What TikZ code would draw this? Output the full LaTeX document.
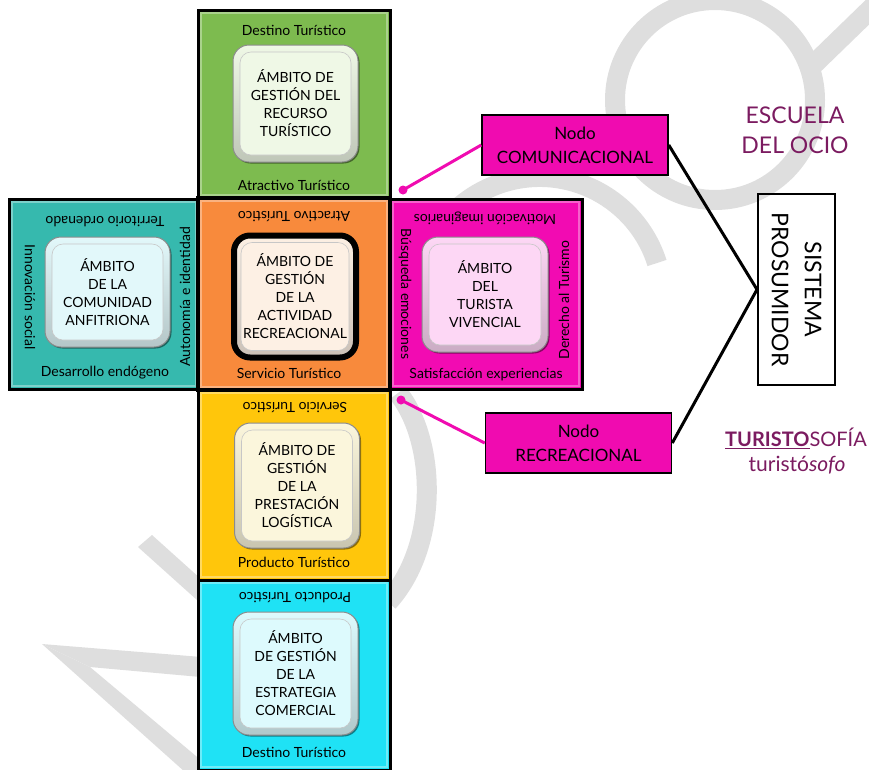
\documentclass[tikz,border=0pt]{standalone}
\usepackage{fontspec}
\setmainfont{Lato}
\usetikzlibrary{shadows}

\definecolor{gOut}{HTML}{7DBB4F}
\definecolor{tOut}{HTML}{36B9AE}
\definecolor{oOut}{HTML}{F88A3C}
\definecolor{mOut}{HTML}{F20BB2}
\definecolor{yOut}{HTML}{FFC60B}
\definecolor{cOut}{HTML}{1FE2F5}
\definecolor{gIn}{HTML}{EFF8E6}
\definecolor{tIn}{HTML}{E2F8FA}
\definecolor{oIn}{HTML}{FDF0E4}
\definecolor{mIn}{HTML}{FDD7F5}
\definecolor{yIn}{HTML}{FBF6DC}
\definecolor{cIn}{HTML}{DDFAFD}
\definecolor{wm}{HTML}{DEDEDE}
\definecolor{purp}{HTML}{7B1B60}
\definecolor{nodo}{HTML}{F00BB0}

\newcommand{\lblfont}{\fontsize{14}{16}\selectfont}
\newcommand{\amfont}{\fontsize{14}{18}\selectfont}

\tikzset{
  frame/.style={draw=black, line width=3pt, inner sep=0pt,
    path picture={
      \draw[white, opacity=0.35, line width=1.5pt]
        ([shift={(3pt,-3pt)}]path picture bounding box.north west) rectangle
        ([shift={(-3pt,3pt)}]path picture bounding box.south east);
    }},
  lbl/.style={inner sep=0pt, font=\lblfont},
  ambit/.style={rounded corners=16pt, draw=black!45, line width=1pt,
    top color=#1, bottom color=#1!80!black, align=center, inner sep=0pt,
    font=\amfont,
    drop shadow={shadow xshift=1.5pt, shadow yshift=-1.5pt, opacity=0.45, fill=black},
    path picture={
      \fill[#1, rounded corners=11pt]
        ([shift={(7pt,-7pt)}]path picture bounding box.north west) rectangle
        ([shift={(-7pt,7pt)}]path picture bounding box.south east);
      \draw[black!22, line width=0.6pt, rounded corners=11pt]
        ([shift={(7pt,-7pt)}]path picture bounding box.north west) rectangle
        ([shift={(-7pt,7pt)}]path picture bounding box.south east);
    }},
  nodobox/.style={draw=black, line width=1.5pt, fill=nodo, align=center,
    minimum width=186pt, minimum height=60pt, inner sep=0pt,
    font=\fontsize{17}{24}\selectfont},
  dotn/.style={circle, fill=nodo, minimum size=9pt, inner sep=0pt},
  pinkline/.style={draw=nodo, line width=3pt},
  blackline/.style={draw=black, line width=3pt},
  wmline/.style={draw=wm, line width=20pt},
}

\begin{document}
\begin{tikzpicture}[x=1pt,y=-1pt]
\useasboundingbox (0,0) rectangle (869,769);

% light grey watermark strokes
\fill[wm] (42,644) -- (300,665) -- (300,686) -- (90,667) -- cycle;
\fill[wm] (42,644) -- (90,667) -- (215,772) -- (185,772) -- cycle;
\fill[wm] (138,547) -- (152,535) -- (300,668) -- (286,680) -- cycle;
\draw[wmline] (398,393) .. controls (436,440) and (440,545) .. (388,602);
\draw[wmline] (657,263) arc[start angle=-17.5, end angle=-200, radius=123];
\draw[wmline] (715,100) circle[radius=100];
\draw[wmline] (812,66) -- (880,0);

% outer frames
\node[frame, fill=gOut, minimum width=192pt, minimum height=188pt] (fG) at (294,104) {};
\node[frame, fill=tOut, minimum width=190pt, minimum height=190pt] (fT) at (104,294) {};
\node[frame, fill=mOut, minimum width=192pt, minimum height=190pt] (fM) at (486,294) {};
\node[frame, fill=yOut, minimum width=192pt, minimum height=190pt] (fY) at (294,485) {};
\node[frame, fill=cOut, minimum width=192pt, minimum height=190pt] (fC) at (294,675) {};
\node[frame, fill=oOut, line width=4pt, minimum width=192pt, minimum height=192pt] (fO) at (294,294) {};

% edge labels
\node[lbl] (gTop) at (294,30) {Destino Turístico};
\node[lbl] (gBot) at (294,185) {Atractivo Turístico};
\node[lbl, rotate=180] (oTop) at (294,217) {Atractivo Turístico};
\node[lbl] (oBot) at (289,373) {Servicio Turístico};
\node[lbl, rotate=180] (tTop) at (105,222) {Territorio ordenado};
\node[lbl] (tBot) at (105,373) {Desarrollo endógeno};
\node[lbl, rotate=-90] (tLeft) at (30,297) {Innovación social};
\node[lbl, rotate=90] (tRight) at (185,297) {Autonomía e identidad};
\node[lbl, rotate=180] (mTop) at (485,218) {Motivación imaginarios};
\node[lbl, rotate=-90] (mLeft) at (405,294) {Búsqueda emociones};
\node[lbl, rotate=90] (mRight) at (564,300) {Derecho al Turismo};
\node[lbl] (mBot) at (486,375) {Satisfacción experiencias};
\node[lbl, rotate=180] (yTop) at (295,408) {Servicio Turístico};
\node[lbl] (yBot) at (294,562) {Producto Turístico};
\node[lbl, rotate=180] (cTop) at (295,598) {Producto Turístico};
\node[lbl] (cBot) at (294,752) {Destino Turístico};

% inner fields
\node[ambit=gIn, minimum width=125pt, minimum height=117pt] (aG) at (295.5,103.5)
  {ÁMBITO DE\\GESTIÓN DEL\\RECURSO\\TURÍSTICO};
\node[ambit=tIn, minimum width=125pt, minimum height=110pt] (aT) at (107.5,292)
  {ÁMBITO\\DE LA\\COMUNIDAD\\ANFITRIONA};
\node[ambit=oIn, draw=black, line width=6pt, minimum width=122pt, minimum height=122pt] (aO) at (295,296.5)
  {ÁMBITO DE\\GESTIÓN\\DE LA\\ACTIVIDAD\\RECREACIONAL};
\node[ambit=mIn, minimum width=126pt, minimum height=115pt] (aM) at (485,294.5)
  {ÁMBITO\\DEL\\TURISTA\\VIVENCIAL};
\node[ambit=yIn, minimum width=125pt, minimum height=125pt] (aY) at (297,485.5)
  {ÁMBITO DE\\GESTIÓN\\DE LA\\PRESTACIÓN\\LOGÍSTICA};
\node[ambit=cIn, minimum width=125pt, minimum height=123pt] (aC) at (295.5,673.5)
  {ÁMBITO\\DE GESTIÓN\\DE LA\\ESTRATEGIA\\COMERCIAL};

% nodes and system box
\node[nodobox] (nc) at (575,145) {Nodo\\COMUNICACIONAL};
\node[nodobox] (nr) at (578.5,443) {Nodo\\RECREACIONAL};
\node[draw=black, line width=2pt, rotate=-90, align=center, inner sep=0pt,
  minimum width=191pt, minimum height=77pt,
  font=\fontsize{23}{33}\selectfont] (sp) at (796.5,289.5) {SISTEMA\\PROSUMIDOR};

\node[dotn] (d1) at (403,190) {};
\node[dotn] (d2) at (401,400) {};
\draw[pinkline] (d1.center) -- (nc.west);
\draw[pinkline] (d2.center) -- (nr.west);
\draw[blackline] (nc.east) -- (sp.south) -- (nr.east);

% titles
\node[align=center, text=purp, inner sep=0pt, font=\fontsize{23}{30}\selectfont] (esc) at (795,130)
  {ESCUELA\\DEL OCIO};
\node[text=purp, inner sep=0pt, font=\fontsize{20}{24}\selectfont] (ts) at (796,438)
  {\underline{\textbf{TURISTO}}SOFÍA};
\node[text=purp, inner sep=0pt, font=\fontsize{21}{24}\selectfont] (tso) at (797,465)
  {turistó\textit{sofo}};
\end{tikzpicture}
\end{document}
